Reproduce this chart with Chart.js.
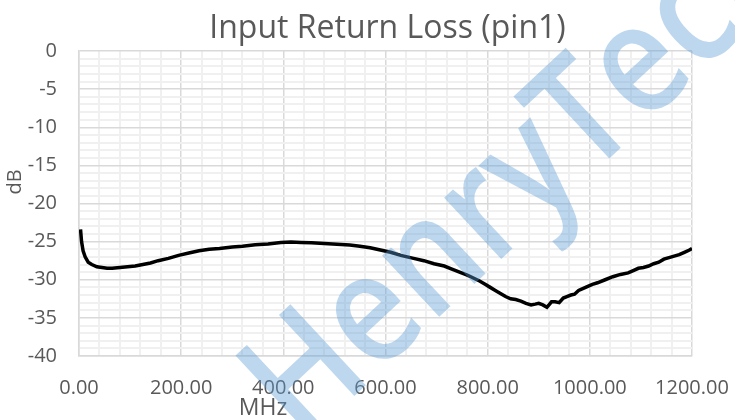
<!DOCTYPE html>
<html>
<head>
<meta charset="utf-8">
<script src="https://cdn.jsdelivr.net/npm/chart.js@4.4.1/dist/chart.umd.min.js"></script>
<style>
html,body{margin:0;padding:0;background:#fff;}
#wrap{width:735px;height:420px;position:relative;}
</style>
</head>
<body>
<div id="wrap"><canvas id="c" width="735" height="420"></canvas></div>
<script>
const titleText = "Input Return Loss (pin1)";
const xTitle = "MHz";
const yTitle = "dB";
const watermark = "HenryTech";

const freqMHz = [3, 5, 8, 12, 18, 25, 35, 45, 55, 65, 80, 95, 110, 125, 140, 155, 175, 195, 215, 235, 255, 275, 300, 320, 345, 370, 395, 415, 435, 455, 480, 505, 530, 550, 570, 590, 610, 630, 655, 675, 695, 715, 730, 745, 760, 770, 785, 795, 805, 815, 825, 835, 845, 855, 865, 875, 885, 893, 900, 908, 916, 920, 925, 932, 940, 948, 955, 963, 970, 978, 985, 995, 1005, 1015, 1030, 1045, 1060, 1075, 1085, 1095, 1105, 1115, 1125, 1135, 1145, 1155, 1165, 1175, 1185, 1195, 1200];
const returnLossDb = [-23.4, -25.0, -26.2, -27.0, -27.7, -28.0, -28.3, -28.4, -28.5, -28.5, -28.4, -28.3, -28.2, -28.0, -27.8, -27.5, -27.2, -26.8, -26.5, -26.2, -26.0, -25.9, -25.7, -25.6, -25.4, -25.3, -25.1, -25.05, -25.1, -25.15, -25.25, -25.35, -25.45, -25.6, -25.8, -26.1, -26.4, -26.8, -27.2, -27.5, -27.9, -28.2, -28.6, -29.0, -29.4, -29.7, -30.2, -30.6, -31.0, -31.4, -31.8, -32.2, -32.5, -32.6, -32.8, -33.1, -33.3, -33.2, -33.1, -33.3, -33.6, -33.3, -32.9, -32.9, -33.0, -32.4, -32.2, -32.0, -31.9, -31.4, -31.2, -30.9, -30.6, -30.4, -30.0, -29.6, -29.3, -29.1, -28.8, -28.5, -28.4, -28.2, -27.9, -27.7, -27.3, -27.1, -26.9, -26.7, -26.4, -26.1, -25.9];

const xMin = 0, xMax = 1200, xMajor = 200, xMinor = 40;
const yMin = -40, yMax = 0, yMajor = 5, yMinor = 1;

const points = freqMHz.map((f, i) => ({x: f, y: returnLossDb[i]}));
const FONT = "'Open Sans', 'Noto Sans', sans-serif";
const TXT = '#595959';

const overlay = {
  id: 'overlay',
  afterDraw(chart) {
    const ctx = chart.ctx, a = chart.chartArea;
    ctx.save();
    // title
    ctx.fillStyle = TXT;
    ctx.font = "32px " + FONT;
    ctx.textAlign = 'center';
    ctx.textBaseline = 'alphabetic';
    ctx.fillText(titleText, (a.left + a.right) / 2 + 2, 38);
    // x axis title
    ctx.font = "23px " + FONT;
    ctx.fillText(xTitle, 263, 415);
    // y axis title
    ctx.save();
    ctx.translate(21, 182);
    ctx.rotate(-Math.PI / 2);
    ctx.font = "20px " + FONT;
    ctx.textAlign = 'center';
    ctx.fillText(yTitle, 0, 0);
    ctx.restore();
    // watermark (anchored so the centre of the "T" sits at its place)
    ctx.save();
    ctx.font = "600 155px " + FONT;
    const sx = 0.86;
    const pre = ctx.measureText("HenryT").width - ctx.measureText("T").width / 2;
    ctx.translate(615, 153);
    ctx.rotate(-43 * Math.PI / 180);
    ctx.scale(sx, 1);
    ctx.textAlign = 'left';
    ctx.fillStyle = 'rgba(91,155,213,0.4)';
    ctx.fillText(watermark, -pre, 0);
    ctx.restore();
    ctx.restore();
  }
};

new Chart(document.getElementById('c'), {
  type: 'line',
  data: {
    datasets: [{
      data: points,
      borderColor: '#000000',
      borderWidth: 3.5,
      pointRadius: 0,
      tension: 0,
      fill: false
    }]
  },
  options: {
    responsive: false,
    animation: false,
    layout: {padding: {top: 51, right: 43, left: 0, bottom: 0}},
    plugins: {legend: {display: false}, title: {display: false}, tooltip: {enabled: false}},
    scales: {
      x: {
        type: 'linear', min: xMin, max: xMax,
        afterFit(s) { s.height = 64; s.paddingLeft = 0; s.paddingRight = 0; },
        afterBuildTicks(s) {
          const t = [];
          for (let v = xMin; v <= xMax; v += xMinor) t.push({value: v});
          s.ticks = t;
        },
        ticks: {
          autoSkip: false, maxRotation: 0, padding: 20,
          color: TXT, font: {family: FONT, size: 20},
          callback: v => (v % xMajor === 0 ? v.toFixed(2) : '')
        },
        grid: {
          drawTicks: false,
          color: c => (c.tick && c.tick.value % xMajor === 0 ? '#d9d9d9' : '#f0f0f0'),
          lineWidth: c => (c.tick && c.tick.value % xMajor === 0 ? 1.5 : 2)
        },
        border: {color: '#d9d9d9', width: 1.5}
      },
      y: {
        type: 'linear', min: yMin, max: yMax,
        afterFit(s) { s.width = 79; s.paddingTop = 0; s.paddingBottom = 0; },
        afterBuildTicks(s) {
          const t = [];
          for (let v = yMin; v <= yMax; v += yMinor) t.push({value: v});
          s.ticks = t;
        },
        ticks: {
          autoSkip: false, padding: 22,
          color: TXT, font: {family: FONT, size: 20},
          callback: v => (v % yMajor === 0 ? String(v) : '')
        },
        grid: {
          drawTicks: false,
          color: c => (c.tick && c.tick.value % yMajor === 0 ? '#d9d9d9' : '#f0f0f0'),
          lineWidth: c => (c.tick && c.tick.value % yMajor === 0 ? 1.5 : 2)
        },
        border: {color: '#d9d9d9', width: 1.5}
      }
    }
  },
  plugins: [overlay]
});
</script>
</body>
</html>
